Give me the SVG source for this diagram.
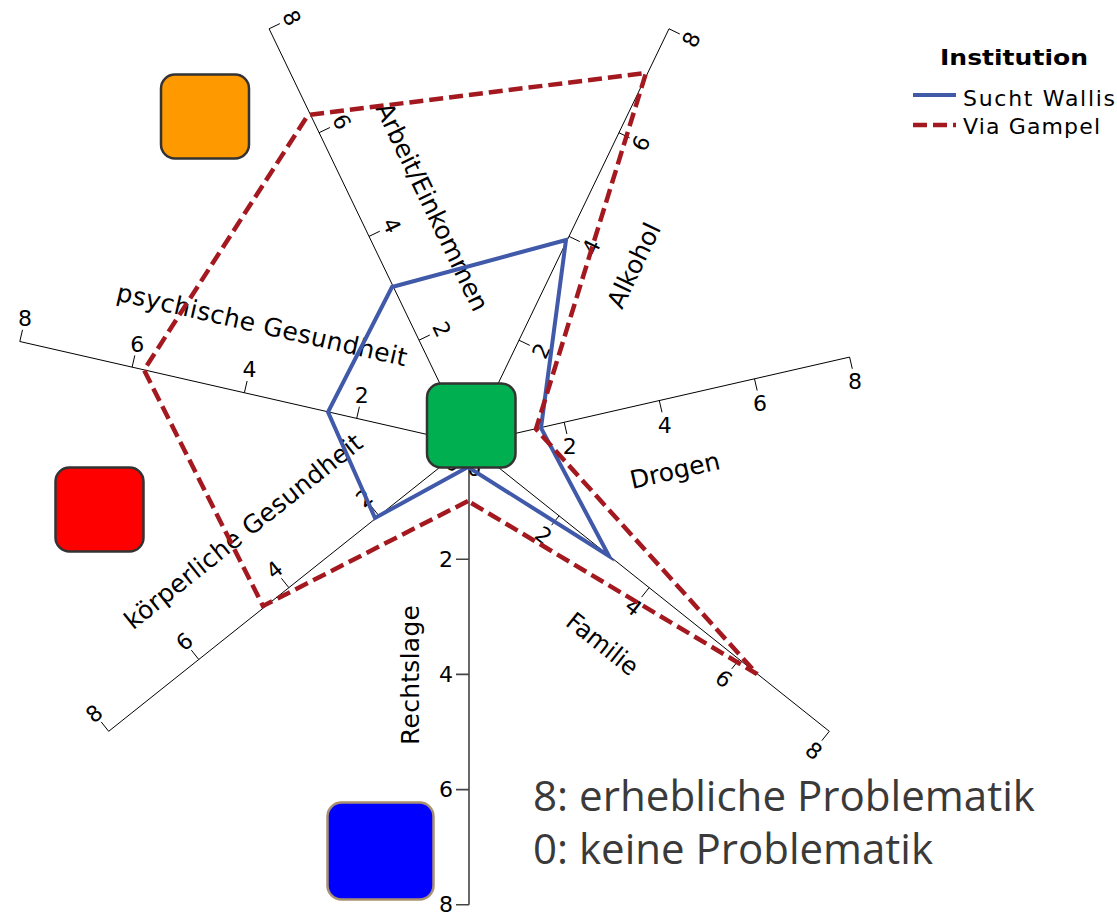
<svg xmlns="http://www.w3.org/2000/svg" width="1117" height="915" viewBox="0 0 1117 915">
<style>
.ax{stroke:#000;stroke-width:1;fill:none}
.axr{stroke:#444;stroke-width:1.6;fill:none}
.tl{font-family:"DejaVu Sans",Verdana,sans-serif;font-size:22px;fill:#000;text-anchor:middle;dominant-baseline:central}
.al{font-family:"DejaVu Sans",Verdana,sans-serif;font-size:25px;fill:#000;text-anchor:middle;dominant-baseline:central}
.sw{stroke:#4059a9;stroke-width:4;fill:none;stroke-linejoin:miter}
.vg{stroke:#a3191f;stroke-width:4.5;fill:none;stroke-dasharray:14 6;stroke-linejoin:miter}
.box{stroke:#333;stroke-width:2.5}
.leg{font-family:"DejaVu Sans",Verdana,sans-serif;font-size:22px;fill:#000}
.note{font-family:"Open Sans","Liberation Sans",sans-serif;font-size:42px;fill:#3a3a3a}
</style>
<rect width="1117" height="915" fill="#fff"/>
<g id="axes">
  <g id="axis-rechtslage">
    <line class="axr" x1="469" y1="444" x2="469" y2="904.8"/>
    <path class="axr" d="M469 559.2h-13M469 674.4h-13M469 789.6h-13M469 904.8h-13"/>
    <text class="tl" x="446" y="559.2">2</text>
    <text class="tl" x="446" y="674.4">4</text>
    <text class="tl" x="446" y="789.6">6</text>
    <text class="tl" x="446" y="904.8">8</text>
    <text class="al" x="410" y="675" transform="rotate(-90 410 675)" textLength="140" lengthAdjust="spacing">Rechtslage</text>
  </g>
  <g id="axis-koerper">
    <line class="ax" x1="469" y1="444" x2="108.7" y2="731.3"/>
    <path class="ax" d="M378.9 515.8l-7.5 -9.4M288.9 587.7l-7.5 -9.4M198.8 659.5l-7.5 -9.4M108.7 731.3l-7.5 -9.4"/>
    <text class="tl" x="364.6" y="498.2" transform="rotate(-38.57 364.6 498.2)">2</text>
    <text class="tl" x="274.6" y="570.1" transform="rotate(-38.57 274.6 570.1)">4</text>
    <text class="tl" x="184.5" y="641.9" transform="rotate(-38.57 184.5 641.9)">6</text>
    <text class="tl" x="94.4" y="713.7" transform="rotate(-38.57 94.4 713.7)">8</text>
    <text class="al" x="243.5" y="531.5" transform="rotate(-38.57 243.5 531.5)" textLength="296" lengthAdjust="spacing">körperliche Gesundheit</text>
  </g>
  <g id="axis-psych">
    <line class="ax" x1="469" y1="444" x2="19.8" y2="341.5"/>
    <path class="ax" d="M356.7 418.4l2.7 -11.7M244.4 392.7l2.7 -11.7M132.1 367.1l2.7 -11.7M19.8 341.5l2.7 -11.7"/>
    <text class="tl" x="361.8" y="395.5">2</text>
    <text class="tl" x="249.5" y="369.8">4</text>
    <text class="tl" x="137.2" y="344.2">6</text>
    <text class="tl" x="24.9" y="318.6">8</text>
    <text class="al" x="262" y="325" transform="rotate(12.86 262 325)" textLength="297" lengthAdjust="spacing">psychische Gesundheit</text>
  </g>
  <g id="axis-arbeit">
    <line class="ax" x1="469" y1="444" x2="269.1" y2="28.8"/>
    <path class="ax" d="M419 340.2l10.8 -5.2M369 236.4l10.8 -5.2M319.1 132.7l10.8 -5.2M269.1 28.8l10.8 -5.2"/>
    <text class="tl" x="441.5" y="329.4" transform="rotate(64.29 441.5 329.4)">2</text>
    <text class="tl" x="391.5" y="225.6" transform="rotate(64.29 391.5 225.6)">4</text>
    <text class="tl" x="341.6" y="121.9" transform="rotate(64.29 341.6 121.9)">6</text>
    <text class="tl" x="291.6" y="18" transform="rotate(64.29 291.6 18)">8</text>
    <text class="al" x="432" y="207" transform="rotate(64.29 432 207)" textLength="228" lengthAdjust="spacing">Arbeit/Einkommen</text>
  </g>
  <g id="axis-alkohol">
    <line class="ax" x1="469" y1="444" x2="669" y2="28.8"/>
    <path class="ax" d="M519 340.2l10.8 5.2M569 236.4l10.8 5.2M618.9 132.7l10.8 5.2M669 28.8l10.8 5.2"/>
    <text class="tl" x="541.5" y="351" transform="rotate(-64.29 541.5 351)">2</text>
    <text class="tl" x="591.5" y="247.2" transform="rotate(-64.29 591.5 247.2)">4</text>
    <text class="tl" x="641.4" y="143.5" transform="rotate(-64.29 641.4 143.5)">6</text>
    <text class="tl" x="691.5" y="39.6" transform="rotate(-64.29 691.5 39.6)">8</text>
    <text class="al" x="634" y="265.5" transform="rotate(-64.29 634 265.5)">Alkohol</text>
  </g>
  <g id="axis-drogen">
    <line class="ax" x1="469" y1="444" x2="849.6" y2="357.1"/>
    <path class="ax" d="M564.2 422.3l2.7 11.7M659.3 400.6l2.7 11.7M754.5 378.9l2.7 11.7M849.6 357.1l2.7 11.7"/>
    <text class="tl" x="474.3" y="468.4">0</text>
    <text class="tl" x="569.7" y="446.7">2</text>
    <text class="tl" x="664.8" y="425">4</text>
    <text class="tl" x="760" y="403.3">6</text>
    <text class="tl" x="855.1" y="381.5">8</text>
    <text class="al" x="675" y="470.5" transform="rotate(-12.86 675 470.5)">Drogen</text>
  </g>
  <g id="axis-familie">
    <line class="ax" x1="469" y1="444" x2="829.3" y2="731.3"/>
    <path class="ax" d="M559.1 515.8l-7.5 9.4M649.1 587.7l-7.5 9.4M739.2 659.5l-7.5 9.4M829.3 731.3l-7.5 9.4"/>
    <text class="tl" x="453.4" y="463.6" transform="rotate(38.57 453.4 463.6)">0</text>
    <text class="tl" x="543.5" y="535.4" transform="rotate(38.57 543.5 535.4)">2</text>
    <text class="tl" x="633.5" y="607.3" transform="rotate(38.57 633.5 607.3)">4</text>
    <text class="tl" x="723.6" y="679.1" transform="rotate(38.57 723.6 679.1)">6</text>
    <text class="tl" x="813.7" y="750.9" transform="rotate(38.57 813.7 750.9)">8</text>
    <text class="al" x="602.5" y="644" transform="rotate(38.57 602.5 644)" textLength="84" lengthAdjust="spacingAndGlyphs">Familie</text>
  </g>
</g>
<g id="connectors">
  <polygon id="sucht-wallis" class="sw" points="468,467 375,518 328,412 392,287 566,240 541,428 609,556"/>
  <polygon id="via-gampel" class="vg" points="468,501 263,606 144,370 308,115 646,73 536,429 757,674"/>
</g>
<g id="node-orange"><rect class="box" x="161" y="74.5" width="88" height="84" rx="14" fill="#ff9900"/></g>
<g id="node-red"><rect class="box" x="55.5" y="467.5" width="88" height="84" rx="14" fill="#ff0000"/></g>
<g id="node-green"><rect class="box" x="427" y="383.5" width="88.5" height="84" rx="14" fill="#00b050"/></g>
<g id="node-blue"><rect x="327.5" y="802.5" width="106" height="97" rx="14" fill="#0000ff" stroke="#a89070" stroke-width="2.5"/></g>
<g id="legend">
  <text class="leg" x="940" y="65" font-weight="bold" font-size="24" textLength="148" lengthAdjust="spacingAndGlyphs">Institution</text>
  <line class="sw" x1="913" y1="95" x2="956" y2="95"/>
  <text class="leg" x="963" y="106" textLength="152" lengthAdjust="spacing">Sucht Wallis</text>
  <line class="vg" x1="913" y1="125" x2="956" y2="125"/>
  <text class="leg" x="963" y="134" textLength="137" lengthAdjust="spacing">Via Gampel</text>
</g>
<g id="note">
  <text class="note" x="533" y="811" textLength="502" lengthAdjust="spacingAndGlyphs">8: erhebliche Problematik</text>
  <text class="note" x="533" y="864" textLength="400" lengthAdjust="spacingAndGlyphs">0: keine Problematik</text>
</g>
</svg>
